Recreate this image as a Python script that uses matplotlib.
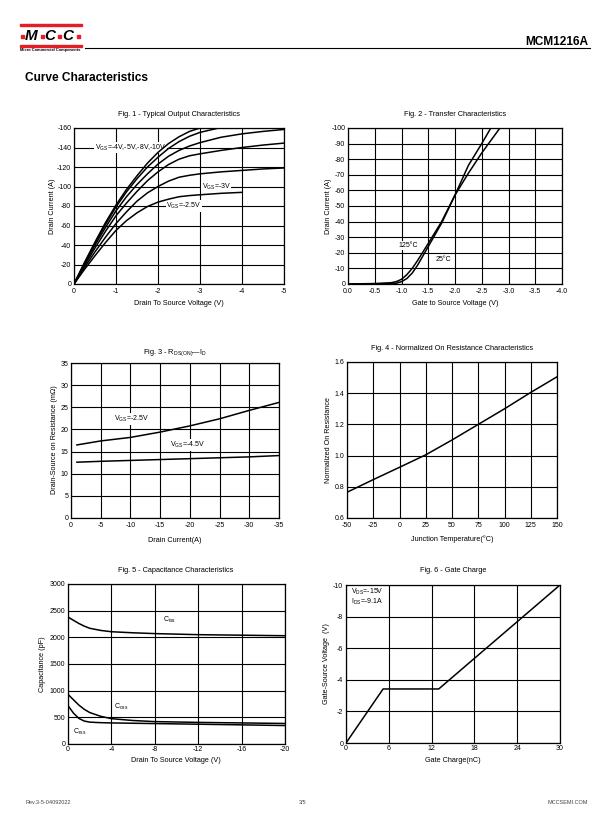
import matplotlib
matplotlib.use("Agg")
import matplotlib.pyplot as plt
from matplotlib.patches import Rectangle

plt.rcParams['font.family'] = ['Liberation Sans', 'DejaVu Sans']
plt.rcParams['mathtext.fontset'] = 'custom'
plt.rcParams['mathtext.rm'] = 'Liberation Sans'
plt.rcParams['mathtext.it'] = 'Liberation Sans'
plt.rcParams['axes.unicode_minus'] = False

###########################################################
### ---------------------- DATA ---------------------------
###########################################################

# Fig 1 - output characteristics (VDS in V, ID in A)
vds_full = [0, -0.25, -0.5, -0.75, -1, -1.25, -1.5, -1.75, -2, -2.25, -2.5, -2.75, -3, -3.5, -4, -4.5, -5]
vds_10 = [0, -0.25, -0.5, -0.75, -1, -1.25, -1.5, -1.75, -2, -2.25, -2.5, -2.75, -3.0]
id_10 = [0, -22, -43, -63, -81, -97, -111, -124, -135, -144, -151, -156.5, -160]
vds_8 = [0, -0.25, -0.5, -0.75, -1, -1.25, -1.5, -1.75, -2, -2.25, -2.5, -2.75, -3, -3.25, -3.45]
id_8 = [0, -21.5, -42, -61, -79, -94.5, -108, -120, -130, -139, -146, -151.5, -155.5, -158, -160]
id_5 = [0, -20.5, -40, -58, -75, -89.5, -102, -113, -123, -131, -137, -141.5, -145, -150.5, -154, -156.5, -158.5]
id_4 = [0, -19, -37, -54, -70, -83, -95, -106, -115, -122.5, -128, -131.5, -133.5, -137, -140, -142.5, -144.5]
id_3 = [0, -17, -33, -48, -62, -74, -85, -93.5, -100, -105.5, -109.5, -111.5, -113, -115, -116.5, -118, -119]
vds_25 = [0, -0.25, -0.5, -0.75, -1, -1.25, -1.5, -1.75, -2, -2.25, -2.5, -2.75, -3, -3.5, -4]
id_25 = [0, -15, -29, -42.5, -55, -65, -73, -79.5, -84, -87, -89.5, -90.7, -91.5, -93, -94]

# Fig 2 - transfer characteristics
vgs_125 = [0, -0.5, -0.8, -0.9, -1.0, -1.1, -1.2, -1.3, -1.4, -1.5, -1.75, -2.0, -2.25, -2.5, -2.84]
id_125 = [0, -0.3, -0.8, -1.5, -3, -6, -10, -15, -20.5, -26, -40, -57, -71, -84, -100]
vgs_25 = [0, -0.5, -0.8, -0.9, -1.0, -1.1, -1.2, -1.3, -1.4, -1.5, -1.75, -2.0, -2.25, -2.5, -2.67]
id_25c = [0, -0.1, -0.3, -0.5, -1.5, -3.5, -7, -12, -18, -24, -39, -57, -76, -90, -100]

# Fig 3 - RDS(ON) vs ID (mOhm)
id_r = [-1, -5, -10, -15, -20, -25, -30, -35]
rds_25 = [16.5, 17.4, 18.2, 19.4, 20.8, 22.4, 24.3, 26.1]
rds_45 = [12.6, 12.8, 13.0, 13.2, 13.4, 13.6, 13.8, 14.1]

# Fig 4 - normalized on resistance
tj = [-50, -25, 0, 25, 50, 75, 100, 125, 150]
rnorm = [0.765, 0.846, 0.925, 1.005, 1.10, 1.20, 1.30, 1.405, 1.505]

# Fig 5 - capacitance (pF)
vds_c = [0, -0.5, -1, -1.5, -2, -3, -4, -6, -8, -12, -16, -20]
ciss = [2380, 2320, 2260, 2210, 2170, 2130, 2105, 2085, 2070, 2050, 2040, 2030]
coss = [930, 830, 730, 650, 590, 520, 475, 440, 420, 405, 395, 385]
crss = [720, 580, 480, 430, 410, 400, 395, 389, 383, 371, 359, 346]

# Fig 6 - gate charge
qg = [0, 5.2, 13.0, 30]
vgs_q = [0, -3.42, -3.42, -10]

W, H = 612, 825
fig = plt.figure(figsize=(6.12, 8.25), dpi=100)
fs = 5.0      # tick labels
fl = 5.2      # axis labels
ft = 5.3      # figure titles
lw_curve = 1.1
RED = '#e31e24'


def make_ax(l, t, r, b):
    return fig.add_axes([l / W, 1 - b / H, (r - l) / W, (b - t) / H])


def ftext(x, y, s, **kw):
    return fig.text(x / W, 1 - y / H, s, **kw)


def frect(x, y, w, h, color):
    fig.add_artist(Rectangle((x / W, 1 - (y + h) / H), w / W, h / H, color=color,
                             transform=fig.transFigure))


def style_ax(ax, xticks, xlabels, yticks, ylabels, xlim, ylim, xpad=3, ypad=2):
    ax.set_xlim(*xlim)
    ax.set_ylim(*ylim)
    ax.set_xticks(xticks)
    ax.set_xticklabels(xlabels)
    ax.set_yticks(yticks)
    ax.set_yticklabels(ylabels)
    ax.set_axisbelow(True)
    ax.grid(True, color='black', linewidth=0.8)
    ax.tick_params(length=0, labelsize=fs)
    ax.tick_params(axis='x', pad=xpad)
    ax.tick_params(axis='y', pad=ypad)
    for s in ax.spines.values():
        s.set_linewidth(0.9)


def label(ax, x, y, s, size=fs):
    ax.text(x, y, s, fontsize=size, ha='left', va='center', zorder=2.5,
            bbox=dict(facecolor='white', edgecolor='none', pad=0.6))


# ---------------- header ----------------
frect(20, 24, 62, 2, RED)
frect(20, 45, 62, 2, RED)
for x in [21, 40.5, 58.5, 77]:
    frect(x, 35, 3, 3, RED)
for x, ch in [(25, 'M'), (44.5, 'C'), (62.5, 'C')]:
    ftext(x, 36, ch, fontsize=11, fontweight='bold', style='italic', ha='left', va='center')
ftext(20, 50.5, 'Micro Commercial Components', fontsize=2.9, fontweight='bold', ha='left', va='center')
fig.add_artist(plt.Line2D([85 / W, 590 / W], [1 - 48 / H, 1 - 48 / H], color='black', lw=0.8,
                          transform=fig.transFigure))
ftext(588, 42, 'MCM1216A', fontsize=8.6, fontweight='bold', ha='right', va='center')
ftext(25, 78, 'Curve Characteristics', fontsize=8.6, fontweight='bold', ha='left', va='center')

# ---------------- Fig 1 ----------------
ax1 = make_ax(74, 128, 284, 284)
ax1.plot(vds_10, id_10, color='black', lw=lw_curve, zorder=3)
ax1.plot(vds_8, id_8, color='black', lw=lw_curve, zorder=3)
ax1.plot(vds_full, id_5, color='black', lw=lw_curve, zorder=3)
ax1.plot(vds_full, id_4, color='black', lw=lw_curve, zorder=3)
ax1.plot(vds_full, id_3, color='black', lw=lw_curve, zorder=3)
ax1.plot(vds_25, id_25, color='black', lw=lw_curve, zorder=3)
style_ax(ax1, [0, -1, -2, -3, -4, -5], ['0', '-1', '-2', '-3', '-4', '-5'],
         list(range(0, -161, -20)), [str(v) for v in range(0, -161, -20)], (0, -5), (0, -160))
label(ax1, -0.49, -140, 'V$_{GS}$=-4V,-5V,-8V,-10V')
label(ax1, -3.04, -100, 'V$_{GS}$=-3V')
label(ax1, -2.2, -80, 'V$_{GS}$=-2.5V')
ftext(179, 115, 'Fig. 1 - Typical Output Characteristics', fontsize=ft, ha='center', va='center')
ftext(179, 304, 'Drain To Source Voltage (V)', fontsize=fl, ha='center', va='center')
ftext(52, 206, 'Drain Current (A)', fontsize=fl, ha='center', va='center', rotation=90)

# ---------------- Fig 2 ----------------
ax2 = make_ax(348, 128, 562, 284)
ax2.plot(vgs_125, id_125, color='black', lw=lw_curve, zorder=3)
ax2.plot(vgs_25, id_25c, color='black', lw=lw_curve, zorder=3)
xt2 = [0, -0.5, -1.0, -1.5, -2.0, -2.5, -3.0, -3.5, -4.0]
style_ax(ax2, xt2, ['%.1f' % v for v in xt2],
         list(range(0, -101, -10)), [str(v) for v in range(0, -101, -10)], (0, -4), (0, -100))
label(ax2, -0.94, -24.5, '125°C')
label(ax2, -1.63, -16, '25°C')
ftext(455, 115, 'Fig. 2 - Transfer Characteristics', fontsize=ft, ha='center', va='center')
ftext(455, 304, 'Gate to Source Voltage (V)', fontsize=fl, ha='center', va='center')
ftext(328, 206, 'Drain Current (A)', fontsize=fl, ha='center', va='center', rotation=90)

# ---------------- Fig 3 ----------------
ax3 = make_ax(71, 363, 279, 518)
ax3.plot(id_r, rds_25, color='black', lw=lw_curve, zorder=3)
ax3.plot(id_r, rds_45, color='black', lw=lw_curve, zorder=3)
style_ax(ax3, list(range(0, -36, -5)), [str(v) for v in range(0, -36, -5)],
         list(range(0, 36, 5)), [str(v) for v in range(0, 36, 5)], (0, -35), (0, 35))
label(ax3, -7.2, 22.3, 'V$_{GS}$=-2.5V')
label(ax3, -16.6, 16.4, 'V$_{GS}$=-4.5V')
ftext(175, 353, 'Fig. 3 - R$_{DS(ON)}$—I$_D$', fontsize=ft, ha='center', va='center')
ftext(175, 541, 'Drain Current(A)', fontsize=fl, ha='center', va='center')
ftext(55, 440, 'Drain-Source on Resistance (mΩ)', fontsize=fl, ha='center', va='center', rotation=90)

# ---------------- Fig 4 ----------------
ax4 = make_ax(347, 362, 557, 518)
ax4.plot(tj, rnorm, color='black', lw=lw_curve, zorder=3)
yt4 = [0.6, 0.8, 1.0, 1.2, 1.4, 1.6]
style_ax(ax4, list(range(-50, 151, 25)), [str(v) for v in range(-50, 151, 25)],
         yt4, ['%.1f' % v for v in yt4], (-50, 150), (0.6, 1.6))
ftext(452, 348, 'Fig. 4 - Normalized On Resistance Characteristics', fontsize=ft, ha='center', va='center')
ftext(452, 539, 'Junction Temperature(°C)', fontsize=fl, ha='center', va='center')
ftext(328, 440, 'Normalized On Resistance', fontsize=fl, ha='center', va='center', rotation=90)

# ---------------- Fig 5 ----------------
ax5 = make_ax(68, 584, 285, 744)
ax5.plot(vds_c, ciss, color='black', lw=lw_curve, zorder=3)
ax5.plot(vds_c, coss, color='black', lw=lw_curve, zorder=3)
ax5.plot(vds_c, crss, color='black', lw=lw_curve, zorder=3)
style_ax(ax5, list(range(0, -21, -4)), [str(v) for v in range(0, -21, -4)],
         list(range(0, 3001, 500)), [str(v) for v in range(0, 3001, 500)], (0, -20), (0, 3000), xpad=1.5)
label(ax5, -8.8, 2330, 'C$_{iss}$')
label(ax5, -4.2, 693, 'C$_{oss}$')
label(ax5, -0.43, 229, 'C$_{rss}$')
ftext(176, 570, 'Fig. 5 - Capacitance Characteristics', fontsize=ft, ha='center', va='center')
ftext(176, 760, 'Drain To Source Voltage (V)', fontsize=fl, ha='center', va='center')
ftext(42, 664, 'Capacitance (pF)', fontsize=fl, ha='center', va='center', rotation=90)

# ---------------- Fig 6 ----------------
ax6 = make_ax(346, 585, 560, 743)
ax6.plot(qg, vgs_q, color='black', lw=lw_curve, zorder=3)
style_ax(ax6, list(range(0, 31, 6)), [str(v) for v in range(0, 31, 6)],
         list(range(0, -11, -2)), [str(v) for v in range(0, -11, -2)], (0, 30), (0, -10), xpad=1.5)
label(ax6, 0.65, -9.55, 'V$_{DS}$=-15V')
label(ax6, 0.65, -8.95, 'I$_{DS}$=-9.1A')
ftext(453, 571, 'Fig. 6 - Gate Charge', fontsize=ft, ha='center', va='center')
ftext(453, 760, 'Gate Charge(nC)', fontsize=fl, ha='center', va='center')
ftext(326, 664, 'Gate-Source Voltage  (V)', fontsize=fl, ha='center', va='center', rotation=90)

# ---------------- footer ----------------
ftext(25, 803, 'Rev.3-5-04092022', fontsize=4, color='#444444', ha='left', va='center')
ftext(303, 803, '3/5', fontsize=4, color='#444444', ha='center', va='center')
ftext(588, 803, 'MCCSEMI.COM', fontsize=4, color='#444444', ha='right', va='center')

fig.savefig('out.png', dpi=100)
